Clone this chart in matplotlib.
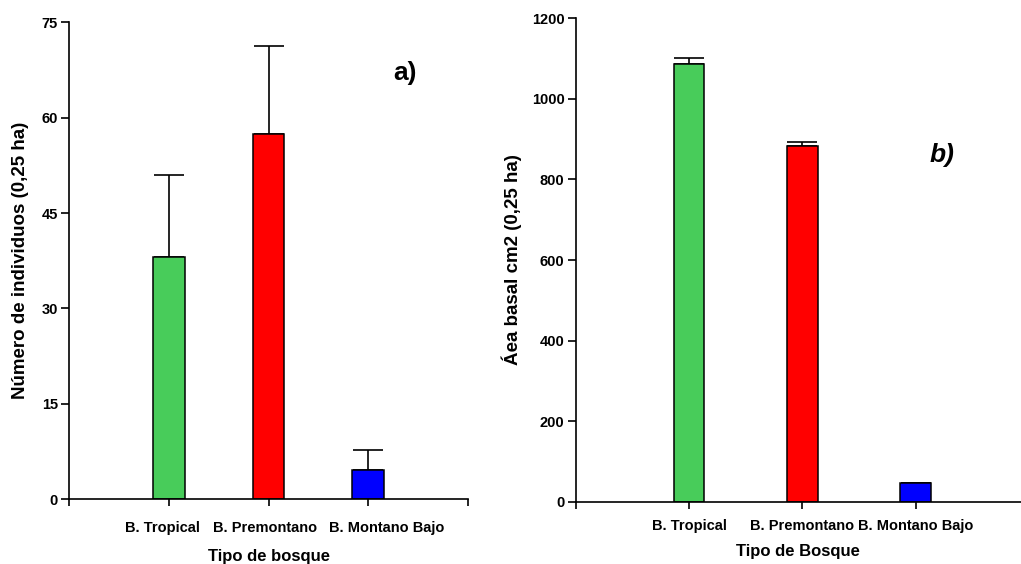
import matplotlib
matplotlib.use('Agg')
import matplotlib.pyplot as plt
from matplotlib.transforms import ScaledTranslation

# data
categories = ['B. Tropical', 'B. Premontano', 'B. Montano Bajo']
colors = ['#48CC5A', '#FF0000', '#0000FF']

individuos = [38.1, 57.4, 4.6]
individuos_err = [12.9, 13.9, 3.2]

area_basal = [1087, 883, 47]
area_basal_err = [13, 9, 1]

plt.rcParams['font.family'] = ['Liberation Sans', 'DejaVu Sans']
plt.rcParams['font.weight'] = 'bold'

TICK_SIZE = 10.5


def draw_panel(ax, values, errors, width, xpad):
    """Bars with upward error bars only."""
    pos = [1, 2, 3]
    ax.bar(pos, values, width=width, color=colors, edgecolor='black', linewidth=1.1, zorder=2)
    ax.errorbar(pos, values, yerr=[[0, 0, 0], errors], fmt='none', ecolor='black',
                elinewidth=1.2, capsize=11, capthick=1.2, zorder=1)
    for side in ('top', 'right'):
        ax.spines[side].set_visible(False)
    for side in ('left', 'bottom'):
        ax.spines[side].set_linewidth(1.2)
    ax.tick_params(axis='y', direction='out', length=6, width=1.2, pad=2, labelsize=TICK_SIZE)
    ax.tick_params(axis='x', direction='out', length=5, width=1.2, pad=xpad, labelsize=TICK_SIZE)
    for lbl in ax.get_yticklabels():
        lbl.set_fontweight('bold')


fig = plt.figure(figsize=(10.21, 5.64), dpi=100)

# a) numero de individuos
ax1 = fig.add_axes([0.0676, 0.115, 0.3908, 0.8455])
draw_panel(ax1, individuos, individuos_err, 0.32, 10.5)
ax1.set_xlim(0, 4)
ax1.set_ylim(0, 75)
ax1.set_yticks([0, 15, 30, 45, 60, 75])
ax1.set_xticks([0, 1, 2, 3, 4])
ax1.set_xticklabels([''] + categories + [''], fontweight='bold')
# the original labels are not quite centred under their ticks
for lbl, dx in zip(ax1.get_xticklabels()[1:4], [-6, -3, 18]):
    lbl.set_transform(lbl.get_transform() + ScaledTranslation(dx / 100, 0, fig.dpi_scale_trans))
ax1.set_ylabel('Número de individuos (0,25 ha)', fontsize=13.5, fontweight='bold', labelpad=9)
ax1.set_xlabel('Tipo de bosque', fontsize=12, fontweight='bold', labelpad=10)
ax1.text(405 / 100, (564 - 73) / 100, 'a)', transform=fig.dpi_scale_trans, fontsize=19,
         fontweight='bold', ha='center', va='center')

# b) area basal
ax2 = fig.add_axes([0.5638, 0.110, 0.4362, 0.858])
draw_panel(ax2, area_basal, area_basal_err, 0.27, 7)
ax2.set_xlim(0, 3.93)
ax2.set_ylim(0, 1200)
ax2.set_yticks([0, 200, 400, 600, 800, 1000, 1200])
ax2.set_xticks([0, 1, 2, 3])
ax2.set_xticklabels([''] + categories, fontweight='bold')
ax2.set_ylabel('Áea basal cm2 (0,25 ha)', fontsize=13.5, fontweight='bold', labelpad=7)
ax2.set_xlabel('Tipo de Bosque', fontsize=12, fontweight='bold', labelpad=8)
ax2.text(942 / 100, (564 - 155) / 100, 'b)', transform=fig.dpi_scale_trans, fontsize=19,
         fontweight='bold', fontstyle='italic', ha='center', va='center')

fig.savefig('out.png', dpi=100)
